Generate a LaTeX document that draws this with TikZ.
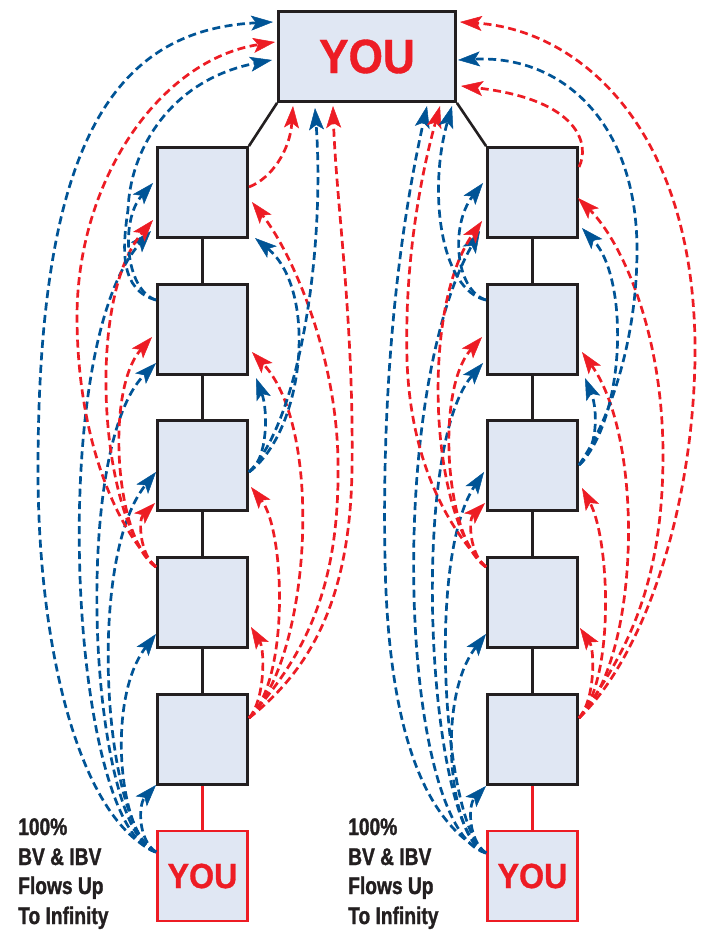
\documentclass[tikz,border=0pt]{standalone}
\usepackage{fontspec}
\setmainfont{Liberation Sans}
\newfontfamily\condfont{Liberation Sans}[FakeStretch=0.8,FakeBold=1.2]
\newfontfamily\youfont{Liberation Sans}[FakeStretch=0.92,FakeBold=0.8]
\usetikzlibrary{arrows.meta}
\definecolor{fblue}{RGB}{0,84,150}
\definecolor{fred}{RGB}{237,28,36}
\definecolor{boxfill}{RGB}{224,231,243}
\definecolor{edgec}{RGB}{35,31,32}
\tikzset{
  box/.style={draw=edgec, line width=2.8pt, fill=boxfill, minimum width=90pt, minimum height=90pt, inner sep=0pt},
  topbox/.style={box, minimum width=177pt, minimum height=90pt, text=fred, font=\youfont\bfseries\fontsize{48}{48}\selectfont},
  youbox/.style={box, draw=fred, line width=2.2pt, text=fred, font=\youfont\bfseries\fontsize{35}{35}\selectfont},
  conn/.style={draw=edgec, line width=2.6pt},
  connred/.style={draw=fred, line width=2.2pt},
  flow/.style={line width=2.7pt, dash pattern=on 8pt off 4.5pt, -{Stealth[length=22pt,width=15pt,inset=5pt,line width=0.5pt]}},
  bl/.style={flow, draw=fblue},
  rd/.style={flow, draw=fred},
  lbl/.style={anchor=base west, inner sep=0pt, text=edgec, font=\condfont\bfseries\fontsize{24}{24}\selectfont}
}
\begin{document}
\begin{tikzpicture}[x=1pt,y=-1pt]
\useasboundingbox[fill=white] (0,0) rectangle (703,930);
% boxes
\node[topbox] (tp) at (367,56.5) {YOU};
\foreach \c/\x in {L/202.5,R/532.5}{
  \node[box] (\c1) at (\x,192.5) {};
  \node[box] (\c2) at (\x,329.5) {};
  \node[box] (\c3) at (\x,465.5) {};
  \node[box] (\c4) at (\x,602.5) {};
  \node[box] (\c5) at (\x,739.5) {};
  \node[youbox] (\c Y) at (\x,876) {YOU};
  \draw[conn] (\c1.south) -- (\c2.north);
  \draw[conn] (\c2.south) -- (\c3.north);
  \draw[conn] (\c3.south) -- (\c4.north);
  \draw[conn] (\c4.south) -- (\c5.north);
  \draw[connred] (\c5.south) -- (\c Y.north);
}
\draw[conn] (tp.south west) -- (L1.north east);
\draw[conn] (tp.south east) -- (R1.north west);

% labels
\node[lbl] (tl1) at (18,835) {100\%};
\node[lbl] (tl2) at (18,865) {BV \& IBV};
\node[lbl] (tl3) at (18,894) {Flows Up};
\node[lbl] (tl4) at (18,924) {To Infinity};
\node[lbl] (tr1) at (348,835) {100\%};
\node[lbl] (tr2) at (348,865) {BV \& IBV};
\node[lbl] (tr3) at (348,894) {Flows Up};
\node[lbl] (tr4) at (348,924) {To Infinity};

% ---------- left column ports ----------
\coordinate (sLY) at (156,852);
\coordinate (sL5) at (249,718);
\coordinate (sL4) at (156,567);
\coordinate (sL3) at (249,472);
\coordinate (sL2) at (156,300);
\coordinate (sL1) at (249,187);
\coordinate (tL5y) at (156,785);
\coordinate (tL4y) at (156,634);
\coordinate (tL3y) at (156,472);
\coordinate (tL2y) at (156,363);
\coordinate (tL1y) at (151,231);
\coordinate (tTLy) at (273,22);
\coordinate (tL3r) at (155,503);
\coordinate (tL2r) at (152,337);
\coordinate (tL1r) at (153,220);
\coordinate (tTLr) at (275,42);
\coordinate (tL1b) at (153,183);
\coordinate (tTLb) at (272,60);
\coordinate (tL4R) at (251,627);
\coordinate (tL3R) at (251,487);
\coordinate (tL2R) at (252,352);
\coordinate (tL1R) at (252,202);
\coordinate (tTB5) at (333,106);
\coordinate (tL2B) at (256,378);
\coordinate (tL1B) at (255,238);
\coordinate (tTB3) at (315,108);
\coordinate (tTB1) at (293,106);

% ---------- right column ports ----------
\coordinate (sRY) at (486,853);
\coordinate (sR5) at (579,718);
\coordinate (sR4) at (486,567);
\coordinate (sR3) at (579,465);
\coordinate (sR2) at (486,300);
\coordinate (sR1) at (579,167);
\coordinate (tR5y) at (486,786);
\coordinate (tR4y) at (486,634);
\coordinate (tR3y) at (484,472);
\coordinate (tR2y) at (483,363);
\coordinate (tR1y) at (480,231);
\coordinate (tTRy) at (427,106);
\coordinate (tR3r) at (485,503);
\coordinate (tR2r) at (482,337);
\coordinate (tR1r) at (482,221);
\coordinate (tTRr) at (440,106);
\coordinate (tR1b) at (483,183);
\coordinate (tTRb) at (452,106);
\coordinate (tR4R) at (580,628);
\coordinate (tR3R) at (582,488);
\coordinate (tR2R) at (582,352);
\coordinate (tR1R) at (578,198);
\coordinate (tTRR) at (460,22);
\coordinate (tR2B) at (585,378);
\coordinate (tR1B) at (582,228);
\coordinate (tTRB) at (458,60);
\coordinate (tTR1) at (461,86);

% ---------- left column flows ----------
\draw[bl] (sLY) .. controls (138,840) and (138,805) .. (tL5y);
\draw[bl] (sLY) .. controls (120,840) and (105,700) .. (tL4y);
\draw[bl] (sLY) .. controls (105,830) and (85,560) .. (tL3y);
\draw[bl] (sLY) .. controls (90,830) and (70,450) .. (tL2y);
\draw[bl] (sLY) .. controls (70,830) and (45,350) .. (tL1y);
\draw[bl] (sLY) .. controls (80,820) and (38,650) .. (38,470) .. controls (38,150) and (110,30) .. (tTLy);

\draw[rd] (sL4) .. controls (140,555) and (138,520) .. (tL3r);
\draw[rd] (sL4) .. controls (115,540) and (105,390) .. (tL2r);
\draw[rd] (sL4) .. controls (100,520) and (85,300) .. (tL1r);
\draw[rd] (sL4) .. controls (110,520) and (78,430) .. (77,320) .. controls (76,180) and (160,60) .. (tTLr);

\draw[bl] (sL2) .. controls (125,290) and (120,220) .. (tL1b);
\draw[bl] (sL2) .. controls (120,290) and (122,250) .. (128,210) .. controls (130,150) and (170,80) .. (tTLb);

\draw[rd] (sL5) .. controls (265,700) and (265,650) .. (tL4R);
\draw[rd] (sL5) .. controls (290,680) and (285,530) .. (tL3R);
\draw[rd] (sL5) .. controls (310,660) and (325,430) .. (tL2R);
\draw[rd] (sL5) .. controls (310,650) and (340,580) .. (338,460) .. controls (336,350) and (290,250) .. (tL1R);
\draw[rd] (sL5) .. controls (310,670) and (350,600) .. (352,470) .. controls (354,320) and (336,200) .. (tTB5);

\draw[bl] (sL3) .. controls (268,460) and (268,410) .. (tL2B);
\draw[bl] (sL3) .. controls (305,430) and (318,290) .. (tL1B);
\draw[bl] (sL3) .. controls (300,420) and (325,250) .. (tTB3);

\draw[rd] (sL1) .. controls (272,178) and (290,150) .. (tTB1);

% ---------- right column flows ----------
\draw[bl] (sRY) .. controls (468,840) and (468,805) .. (tR5y);
\draw[bl] (sRY) .. controls (450,840) and (435,700) .. (tR4y);
\draw[bl] (sRY) .. controls (445,830) and (425,560) .. (tR3y);
\draw[bl] (sRY) .. controls (428,830) and (408,450) .. (tR2y);
\draw[bl] (sRY) .. controls (400,830) and (385,400) .. (tR1y);
\draw[bl] (sRY) .. controls (420,820) and (388,720) .. (385,560) .. controls (382,400) and (395,250) .. (tTRy);

\draw[rd] (sR4) .. controls (470,555) and (468,520) .. (tR3r);
\draw[rd] (sR4) .. controls (445,540) and (435,390) .. (tR2r);
\draw[rd] (sR4) .. controls (430,520) and (420,310) .. (tR1r);
\draw[rd] (sR4) .. controls (440,520) and (410,450) .. (407,360) .. controls (404,250) and (425,160) .. (tTRr);

\draw[bl] (sR2) .. controls (455,290) and (450,225) .. (tR1b);
\draw[bl] (sR2) .. controls (440,290) and (428,190) .. (tTRb);

\draw[rd] (sR5) .. controls (595,700) and (595,650) .. (tR4R);
\draw[rd] (sR5) .. controls (615,680) and (610,540) .. (tR3R);
\draw[rd] (sR5) .. controls (640,660) and (645,440) .. (tR2R);
\draw[rd] (sR5) .. controls (630,650) and (662,580) .. (663,460) .. controls (664,330) and (620,240) .. (tR1R);
\draw[rd] (sR5) .. controls (640,660) and (692,520) .. (695,360) .. controls (698,130) and (580,30) .. (tTRR);

\draw[bl] (sR3) .. controls (598,450) and (598,410) .. (tR2B);
\draw[bl] (sR3) .. controls (625,420) and (630,280) .. (tR1B);
\draw[bl] (sR3) .. controls (610,420) and (637,340) .. (637,250) .. controls (637,120) and (560,55) .. (tTRB);

\draw[rd] (sR1) .. controls (590,145) and (580,100) .. (tTR1);
\end{tikzpicture}
\end{document}
